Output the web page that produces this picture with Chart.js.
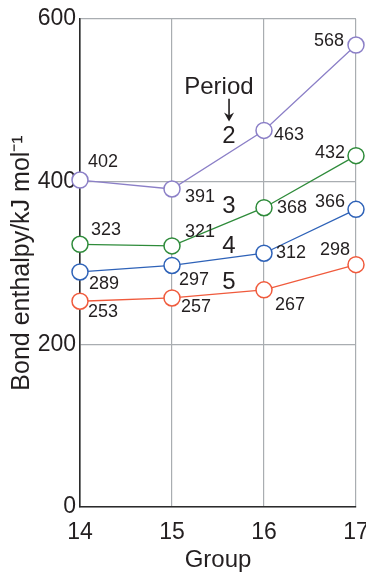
<!DOCTYPE html>
<html>
<head>
<meta charset="utf-8">
<script src="https://cdn.jsdelivr.net/npm/chart.js@4"></script>
<style>
  html, body { margin: 0; padding: 0; background: #fff; }
  #wrap { width: 366px; height: 575px; position: relative; }
</style>
</head>
<body>
<div id="wrap"><canvas id="c"></canvas></div>
<script>
// Group numbers on the x axis
const groups = [14, 15, 16, 17];
// Bond enthalpies (kJ mol-1) of the hydrides, one list per period
const period2 = [402, 391, 463, 568];
const period3 = [323, 321, 368, 432];
const period4 = [289, 297, 312, 366];
const period5 = [253, 257, 267, 298];
const periodNames = ['2', '3', '4', '5'];
const yTicks = [0, 200, 400, 600];

const FONT = '"Liberation Sans", Arial, Helvetica, sans-serif';
const INK = '#231f20';

// Pixel offsets of each value label from its marker
const labelOffsets = [
  [[23, -18], [28, 8], [25, 5], [-27, -4]],
  [[26, -14], [28, -14], [28, 0], [-26, -3]],
  [[24, 12], [22, 15], [27, 0], [-26, -7]],
  [[23, 11], [24, 9], [26, 15], [-21, -15]]
];
// Period number labels, placed in data coordinates
const periodLabelPos = [[15.62, 456], [15.62, 370], [15.62, 320], [15.62, 276]];

function series(values) {
  return groups.map((g, i) => ({ x: g, y: values[i] }));
}

function makeSet(values, color) {
  return {
    data: series(values),
    borderColor: color,
    backgroundColor: '#ffffff',
    borderWidth: 1.3,
    pointRadius: 8,
    pointBorderWidth: 1.5,
    pointBackgroundColor: '#ffffff',
    pointBorderColor: color,
    tension: 0,
    clip: false
  };
}

const annotations = {
  id: 'annotations',
  afterDatasetsDraw(chart) {
    const ctx = chart.ctx;
    const xs = chart.scales.x, ys = chart.scales.y;
    ctx.save();
    ctx.fillStyle = INK;
    ctx.textAlign = 'center';
    ctx.textBaseline = 'middle';
    // value labels
    ctx.font = '18px ' + FONT;
    chart.data.datasets.forEach((ds, di) => {
      const meta = chart.getDatasetMeta(di);
      meta.data.forEach((pt, i) => {
        const off = labelOffsets[di][i];
        ctx.fillText(String(ds.data[i].y), pt.x + off[0], pt.y + off[1]);
      });
    });
    // "Period" heading with arrow
    ctx.font = '24px ' + FONT;
    ctx.fillText('Period', xs.getPixelForValue(15.51), ys.getPixelForValue(516));
    const ax = xs.getPixelForValue(15.62);
    const ay0 = ys.getPixelForValue(502), ay1 = ys.getPixelForValue(474);
    ctx.strokeStyle = INK;
    ctx.lineWidth = 1.6;
    ctx.beginPath();
    ctx.moveTo(ax, ay0);
    ctx.lineTo(ax, ay1 - 3);
    ctx.stroke();
    ctx.beginPath();
    ctx.moveTo(ax - 5, ay1 - 9);
    ctx.lineTo(ax, ay1);
    ctx.lineTo(ax + 5, ay1 - 9);
    ctx.lineTo(ax, ay1 - 6);
    ctx.closePath();
    ctx.fill();
    // period numbers
    ctx.font = '24px ' + FONT;
    periodNames.forEach((n, i) => {
      const p = periodLabelPos[i];
      ctx.fillText(n, xs.getPixelForValue(p[0]), ys.getPixelForValue(p[1]));
    });
    ctx.restore();
  }
};

new Chart(document.getElementById('c'), {
  type: 'line',
  data: {
    datasets: [
      makeSet(period2, '#8b7fc7'),
      makeSet(period3, '#2e8b3a'),
      makeSet(period4, '#2e62b8'),
      makeSet(period5, '#f05a3c')
    ]
  },
  options: {
    responsive: true,
    maintainAspectRatio: false,
    animation: false,
    events: [],
    layout: { padding: { top: 19, right: 10, left: 0, bottom: 0 } },
    plugins: { legend: { display: false }, tooltip: { enabled: false } },
    scales: {
      x: {
        type: 'linear',
        min: groups[0],
        max: groups[groups.length - 1],
        afterBuildTicks(s) { s.ticks = groups.map(v => ({ value: v })); },
        afterFit(s) { s.height = 68; s.paddingLeft = 0; s.paddingRight = 0; },
        ticks: {
          color: INK,
          font: { family: FONT, size: 23 },
          padding: 12,
          maxRotation: 0,
          autoSkip: false
        },
        grid: { color: '#a9adb1', lineWidth: 1.2, drawTicks: false },
        border: { color: '#2b2b2b', width: 1.6 },
        title: {
          display: true,
          text: 'Group',
          color: INK,
          font: { family: FONT, size: 24 },
          padding: 0
        }
      },
      y: {
        type: 'linear',
        min: 0,
        max: 600,
        afterBuildTicks(s) { s.ticks = yTicks.map(v => ({ value: v })); },
        afterFit(s) { s.width = 80; s.paddingTop = 0; s.paddingBottom = 0; },
        ticks: {
          color: INK,
          font: { family: FONT, size: 23 },
          padding: 4
        },
        grid: { color: '#a9adb1', lineWidth: 1.2, drawTicks: false },
        border: { color: '#2b2b2b', width: 1.6 },
        title: {
          display: true,
          text: 'Bond enthalpy/kJ mol\u207B\u00B9',
          color: INK,
          font: { family: FONT, size: 25 },
          padding: { top: 7, bottom: 0 }
        }
      }
    }
  },
  plugins: [annotations]
});
</script>
</body>
</html>
